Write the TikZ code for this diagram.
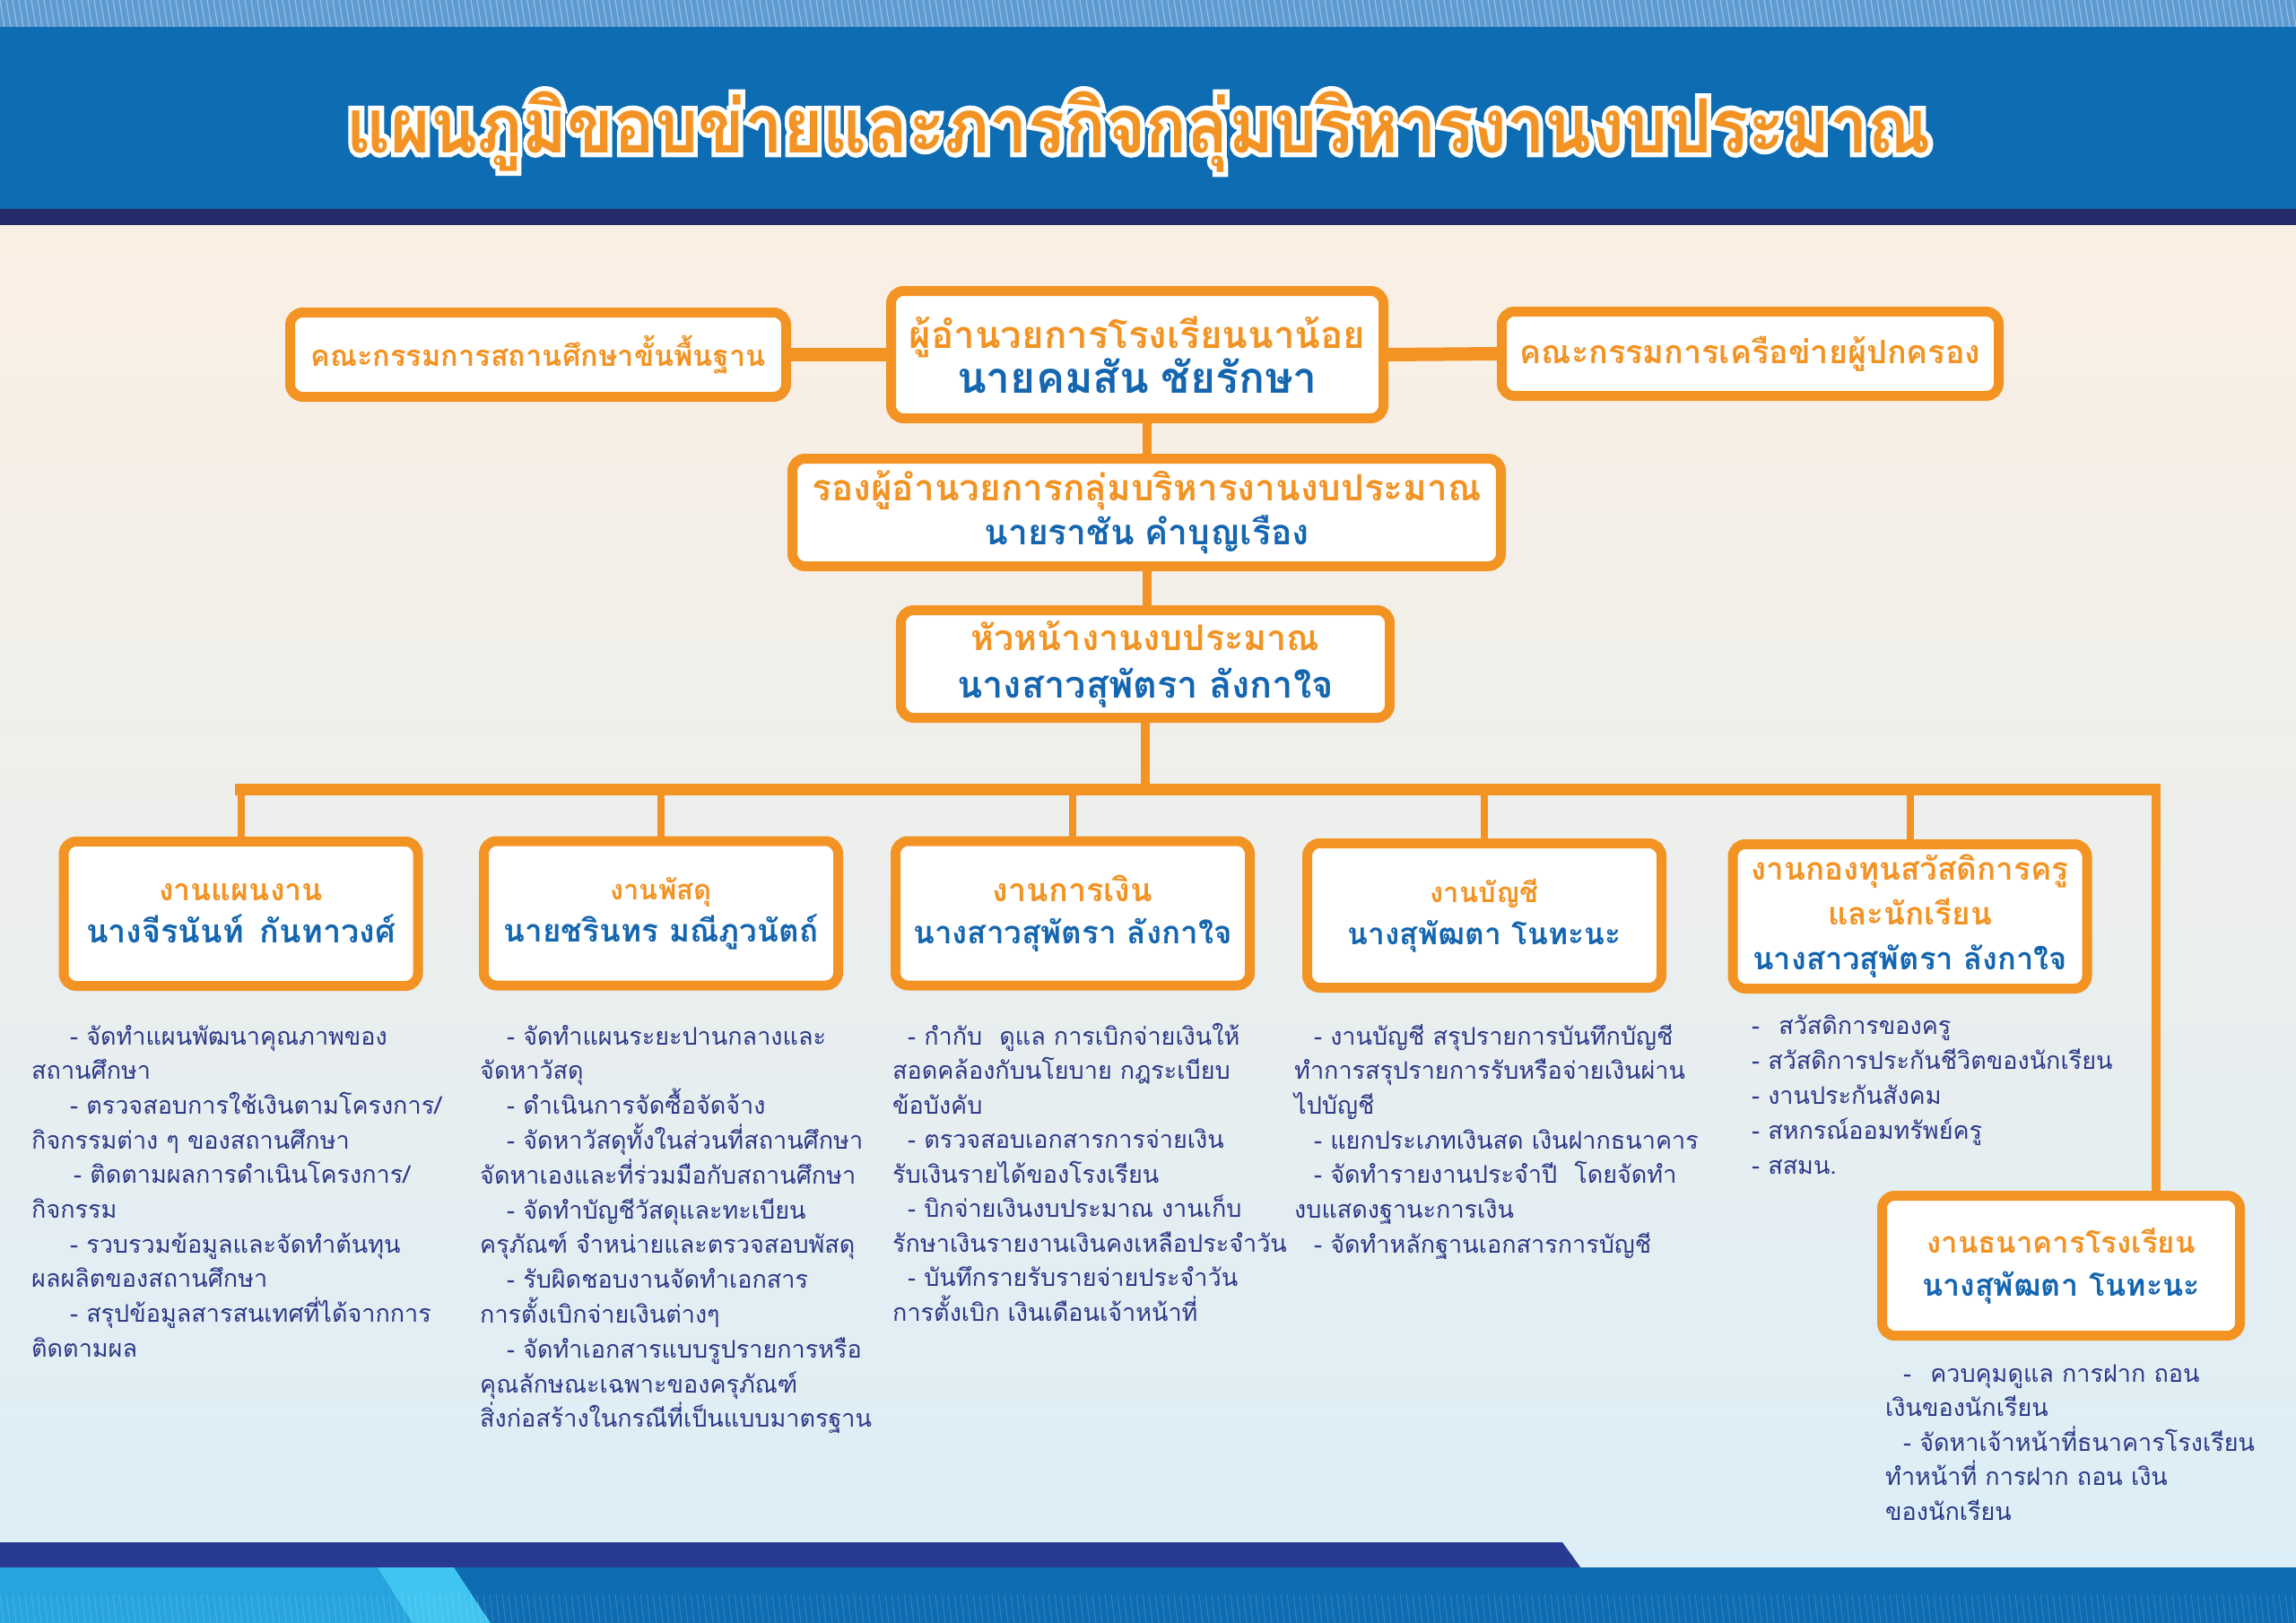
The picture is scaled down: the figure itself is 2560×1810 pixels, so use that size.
\documentclass[tikz,border=0pt]{standalone}
\usepackage{fontspec}
\setmainfont[Script=Thai]{Loma}
\newfontfamily\halofont[Script=Thai, FakeBold=13]{Loma}
\usetikzlibrary{calc}
\definecolor{org}{HTML}{F39323}
\definecolor{nameblue}{HTML}{1466B0}
\definecolor{txtnavy}{HTML}{2C3987}
\definecolor{hdrblue}{HTML}{0E6CB2}
\definecolor{hdrtop}{HTML}{5E9BD2}
\definecolor{navyband}{HTML}{252A6B}
\definecolor{footnavy}{HTML}{283A92}
\definecolor{cyanA}{HTML}{27A4DE}
\definecolor{cyanB}{HTML}{40C4F0}
\definecolor{bgtop}{HTML}{FBEFE3}
\definecolor{bgmid}{HTML}{F3F4E2}
\definecolor{bgbot}{HTML}{DCEEF7}
\newcommand\ot[2]{{\color{org}\fontsize{#1}{#1}\selectfont\bfseries #2}}
\newcommand\nm[2]{{\color{nameblue}\fontsize{#1}{#1}\selectfont\bfseries #2}}
\newcommand\ttlstr{แผนภูมิขอบข่ายและภารกิจกลุ่มบริหารงานงบประมาณ}
\newcommand\ttlcore{\fontsize{76}{76}\selectfont\bfseries\scalebox{1}[1.1]{\ttlstr}}
\newcommand\ttlhalo{\rlap{\halofont\color{white}\ttlcore}}
\newcommand\bul[5]{\foreach \q [count=\i] in {#5} {\node[btxt] (#1\i) at (#2, {#3+(\i-1)*#4}) {\q};}}
\tikzset{
  box/.style={draw=org, line width=11pt, fill=white, rounded corners=14pt, inner sep=0pt, align=center, font=\fontsize{30}{49}\selectfont},
  btxt/.style={anchor=base west, inner sep=0pt, text=txtnavy, font=\fontsize{27}{27}\selectfont},
  ttlstyle/.style={anchor=base, inner sep=0pt},
  hconn/.style={draw=org, line width=15pt},
  vconn/.style={draw=org, line width=10pt},
  busline/.style={draw=org, line width=13pt},
  dropline/.style={draw=org, line width=8pt}
}
\begin{document}
\begin{tikzpicture}[x=1pt,y=-1pt]
\useasboundingbox (0,0) rectangle (2560,1810);
% background
\shade[top color=bgtop, middle color=bgmid, bottom color=bgbot] (0,250) rectangle (2560,1752);
% header
\fill[hdrblue] (0,0) rectangle (2560,234);
\fill[hdrtop] (0,0) rectangle (2560,30);
\foreach \i in {0,7,...,2560} \draw[white, opacity=.35, line width=1.2pt] (\i,0) -- (\i+5,30);
\fill[navyband] (0,233) rectangle (2560,251);
% footer
\fill[footnavy] (0,1720) -- (1742,1720) -- (1763,1749) -- (0,1749) -- cycle;
\fill[hdrblue] (0,1748) rectangle (2560,1810);
\fill[cyanA] (0,1748) -- (425,1748) -- (462,1810) -- (0,1810) -- cycle;
\fill[cyanB] (421,1748) -- (506,1748) -- (547,1810) -- (460,1810) -- cycle;
\foreach \i in {0,7,...,2560} \draw[white, opacity=.15, line width=1pt] (\i,1778) -- (\i+4,1810);
% title (orange with white outline)
\node[ttlstyle] (title) at (1270,170) {\ttlhalo{\color{org}\ttlcore}};
% top row
\node[box, minimum width=553pt, minimum height=94pt] (l) at (600,395.5) {\ot{32.5}{คณะกรรมการสถานศึกษาขั้นพื้นฐาน}};
\node[box, minimum width=549pt, minimum height=142pt] (c) at (1268,395.5) {\ot{42}{ผู้อำนวยการโรงเรียนนาน้อย}\\ \nm{48}{นายคมสัน\hspace{14pt}ชัยรักษา}};
\node[box, minimum width=554pt, minimum height=94pt] (r) at (1951.5,394.5) {\ot{36}{คณะกรรมการเครือข่ายผู้ปกครอง}};
\node[box, minimum width=790pt, minimum height=120pt] (d) at (1278.5,571.5) {\ot{40.5}{รองผู้อำนวยการกลุ่มบริหารงานงบประมาณ}\\ \nm{39}{นายราชัน\hspace{12pt}คำบุญเรือง}};
\node[box, minimum width=545pt, minimum height=120pt, font=\fontsize{30}{53}\selectfont] (h) at (1277,740.5) {\ot{39.5}{หัวหน้างานงบประมาณ}\\ \nm{41.5}{นางสาวสุพัตรา\hspace{12pt}ลังกาใจ}};
% row boxes
\node[box, minimum width=395pt, minimum height=161pt, font=\fontsize{30}{47}\selectfont] (b1) at (268.5,1019) {\ot{34}{งานแผนงาน}\\ \nm{36}{นางจีรนันท์\hspace{18pt}กันทาวงศ์}};
\node[box, minimum width=395pt, minimum height=161pt, font=\fontsize{30}{47}\selectfont] (b2) at (737,1018.5) {\ot{31}{งานพัสดุ}\\ \nm{35}{นายชรินทร มณีภูวนัตถ์}};
\node[box, minimum width=395pt, minimum height=161pt, font=\fontsize{30}{47}\selectfont] (b3) at (1196,1018.5) {\ot{36}{งานการเงิน}\\ \nm{35}{นางสาวสุพัตรา ลังกาใจ}};
\node[box, minimum width=395pt, minimum height=161pt, font=\fontsize{30}{47}\selectfont] (b4) at (1655,1021) {\ot{31}{งานบัญชี}\\ \nm{33.5}{นางสุพัฒตา โนทะนะ}};
\node[box, minimum width=395pt, minimum height=161pt, font=\fontsize{30}{50}\selectfont] (b5) at (2129.5,1022) {\ot{35}{งานกองทุนสวัสดิการครู}\\ \ot{35}{และนักเรียน}\\ \nm{34.5}{นางสาวสุพัตรา ลังกาใจ}};
\node[box, minimum width=399pt, minimum height=156pt, font=\fontsize{30}{48}\selectfont] (bank) at (2298,1411.5) {\ot{33}{งานธนาคารโรงเรียน}\\ \nm{34}{นางสุพัฒตา\hspace{12pt}โนทะนะ}};
% connectors
\coordinate (busL) at (262,880);
\coordinate (busR) at (2409,880);
\draw[hconn] (l.east) -- (c.west);
\draw[hconn] (c.east) -- (r.west);
\draw[vconn] (d.north) -- (d.north |- c.south);
\draw[vconn] (d.south) -- (d.south |- h.north);
\draw[vconn] (h.south) -- (h.south |- busL);
\draw[busline] (busL) -- (busR);
\foreach \b in {b1,b2,b3,b4,b5} \draw[dropline] (\b.north) -- (\b.north |- busL);
\coordinate (bankdrop) at (2404,880);
\draw[vconn] (bankdrop) -- (bankdrop |- bank.north);
% bullet texts
\bul{pa}{35}{1165}{38.7}{\hspace*{43pt}- จัดทำแผนพัฒนาคุณภาพของ, สถานศึกษา, \hspace*{43pt}- ตรวจสอบการใช้เงินตามโครงการ/, กิจกรรมต่าง ๆ ของสถานศึกษา, \hspace*{47pt}- ติดตามผลการดำเนินโครงการ/, กิจกรรม, \hspace*{43pt}- รวบรวมข้อมูลและจัดทำต้นทุน, ผลผลิตของสถานศึกษา, \hspace*{43pt}- สรุปข้อมูลสารสนเทศที่ได้จากการ, ติดตามผล}
\bul{pb}{535}{1165}{38.8}{\hspace*{30pt}- จัดทำแผนระยะปานกลางและ, จัดหาวัสดุ, \hspace*{30pt}- ดำเนินการจัดซื้อจัดจ้าง, \hspace*{30pt}- จัดหาวัสดุทั้งในส่วนที่สถานศึกษา, จัดหาเองและที่ร่วมมือกับสถานศึกษา, \hspace*{30pt}- จัดทำบัญชีวัสดุและทะเบียน, ครุภัณฑ์ จำหน่ายและตรวจสอบพัสดุ, \hspace*{30pt}- รับผิดชอบงานจัดทำเอกสาร, การตั้งเบิกจ่ายเงินต่างๆ, \hspace*{30pt}- จัดทำเอกสารแบบรูปรายการหรือ, คุณลักษณะเฉพาะของครุภัณฑ์, สิ่งก่อสร้างในกรณีที่เป็นแบบมาตรฐาน}
\bul{pc}{995}{1165}{38.5}{\hspace*{17pt}- กำกับ\hspace{10pt} ดูแล การเบิกจ่ายเงินให้, สอดคล้องกับนโยบาย กฎระเบียบ, ข้อบังคับ, \hspace*{17pt}- ตรวจสอบเอกสารการจ่ายเงิน, รับเงินรายได้ของโรงเรียน, \hspace*{17pt}- บิกจ่ายเงินงบประมาณ งานเก็บ, รักษาเงินรายงานเงินคงเหลือประจำวัน, \hspace*{17pt}- บันทึกรายรับรายจ่ายประจำวัน, การตั้งเบิก เงินเดือนเจ้าหน้าที่}
\bul{pd}{1443}{1165}{38.7}{\hspace*{22pt}- งานบัญชี สรุปรายการบันทึกบัญชี, ทำการสรุปรายการรับหรือจ่ายเงินผ่าน, ไปบัญชี, \hspace*{22pt}- แยกประเภทเงินสด เงินฝากธนาคาร, \hspace*{22pt}- จัดทำรายงานประจำปี\hspace{10pt} โดยจัดทำ, งบแสดงฐานะการเงิน, \hspace*{22pt}- จัดทำหลักฐานเอกสารการบัญชี}
\bul{pe}{1953}{1153}{39.2}{-\hspace{12pt} สวัสดิการของครู, - สวัสดิการประกันชีวิตของนักเรียน, - งานประกันสังคม, - สหกรณ์ออมทรัพย์ครู, - สสมน.}
\bul{pf}{2102}{1541}{38.5}{\hspace*{20pt}-\hspace{12pt} ควบคุมดูแล การฝาก ถอน, เงินของนักเรียน, \hspace*{20pt}- จัดหาเจ้าหน้าที่ธนาคารโรงเรียน, ทำหน้าที่ การฝาก ถอน เงิน, ของนักเรียน}
\end{tikzpicture}
\end{document}
